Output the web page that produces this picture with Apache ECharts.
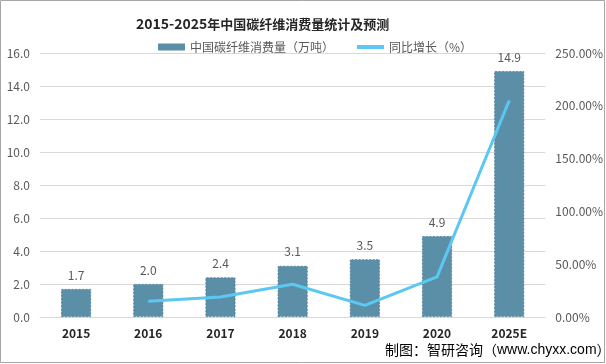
<!DOCTYPE html>
<html><head><meta charset="utf-8">
<script src="https://cdn.jsdelivr.net/npm/echarts@6/dist/echarts.min.js"></script>
<style>html,body{margin:0;padding:0;background:#fff}#c{width:606px;height:364px}</style>
</head><body><div id="c"></div>
<script>
const categories = ['2015','2016','2017','2018','2019','2020','2025E'];
const consumption = [1.7, 2.0, 2.4, 3.1, 3.5, 4.9, 14.9];
const growth = [null, 15, 19, 31, 11, 38, 205];
const leftTicks = {min: 0, max: 16, interval: 2};
const rightTicks = {min: 0, max: 250, interval: 50};

const chart = echarts.init(document.getElementById('c'));
const font = '"Noto Sans CJK SC", "Noto Sans", sans-serif';
chart.setOption({
  animation: false,
  textStyle: {fontFamily: font},
  title: {
    text: '{d|2015-2025}{c|年中国碳纤维消费量统计及预测}',
    left: 131, top: 12,
    textStyle: {
      fontSize: 14, fontWeight: 'bold', color: '#262626', fontFamily: font,
      rich: {
        d: {fontSize: 14, fontWeight: 'bold', color: '#262626', fontFamily: font},
        c: {fontSize: 13, fontWeight: 'bold', color: '#262626', fontFamily: font}
      }
    }
  },
  legend: [
    {
      left: 153, top: 36, itemWidth: 27, itemHeight: 7,
      textStyle: {fontSize: 12, color: '#595959', fontFamily: font},
      data: [{name: '中国碳纤维消费量（万吨）', icon: 'rect', itemStyle: {borderWidth: 0}}]
    },
    {
      left: 352, top: 36, itemWidth: 27, itemHeight: 4,
      textStyle: {fontSize: 12, color: '#595959', fontFamily: font},
      data: [{name: '同比增长（%）', icon: 'rect'}]
    }
  ],
  grid: {left: 40, right: 55, top: 53, bottom: 47, containLabel: false},
  xAxis: {
    type: 'category', data: categories,
    axisLine: {show: true, lineStyle: {color: '#D9D9D9'}},
    axisTick: {show: false},
    axisLabel: {fontSize: 12, fontWeight: 'bold', color: '#262626', margin: 10, fontFamily: font}
  },
  yAxis: [
    {
      type: 'value', min: leftTicks.min, max: leftTicks.max, interval: leftTicks.interval,
      axisLabel: {fontSize: 12, color: '#595959', margin: 10, formatter: v => v.toFixed(1)},
      splitLine: {lineStyle: {color: '#D9D9D9'}},
      axisLine: {show: false}, axisTick: {show: false}
    },
    {
      type: 'value', min: rightTicks.min, max: rightTicks.max, interval: rightTicks.interval,
      axisLabel: {fontSize: 12, color: '#595959', margin: 10, formatter: v => v.toFixed(2) + '%'},
      splitLine: {show: false},
      axisLine: {show: false}, axisTick: {show: false}
    }
  ],
  series: [
    {
      name: '中国碳纤维消费量（万吨）', type: 'bar', data: consumption, barWidth: 30,
      itemStyle: {color: '#5B8FA8', borderColor: '#4D7D94', borderWidth: 0.8, borderType: [2, 1.5]},
      label: {show: true, position: 'top', distance: 8, fontSize: 12, color: '#595959', formatter: p => p.value.toFixed(1)}
    },
    {
      name: '同比增长（%）', type: 'line', yAxisIndex: 1, data: growth,
      showSymbol: false, symbol: 'none', connectNulls: false,
      lineStyle: {color: '#5BC8F2', width: 3},
      itemStyle: {color: '#5BC8F2'}
    }
  ],
  graphic: [
    {type: 'rect', shape: {x: 0.5, y: 0.5, width: 604, height: 362}, style: {fill: 'none', stroke: '#A6A6A6', lineWidth: 1}, silent: true},
    {
      type: 'text', left: 385, top: 343,
      style: {
        text: '{a|制图：智研咨询（}{b|www.chyxx.com}{a|）}',
        rich: {
          a: {fontSize: 14, color: '#000', fontFamily: font},
          b: {fontSize: 14, color: '#1F3864', fontFamily: '"Liberation Sans", sans-serif'}
        }
      }
    }
  ]
});
</script></body></html>
